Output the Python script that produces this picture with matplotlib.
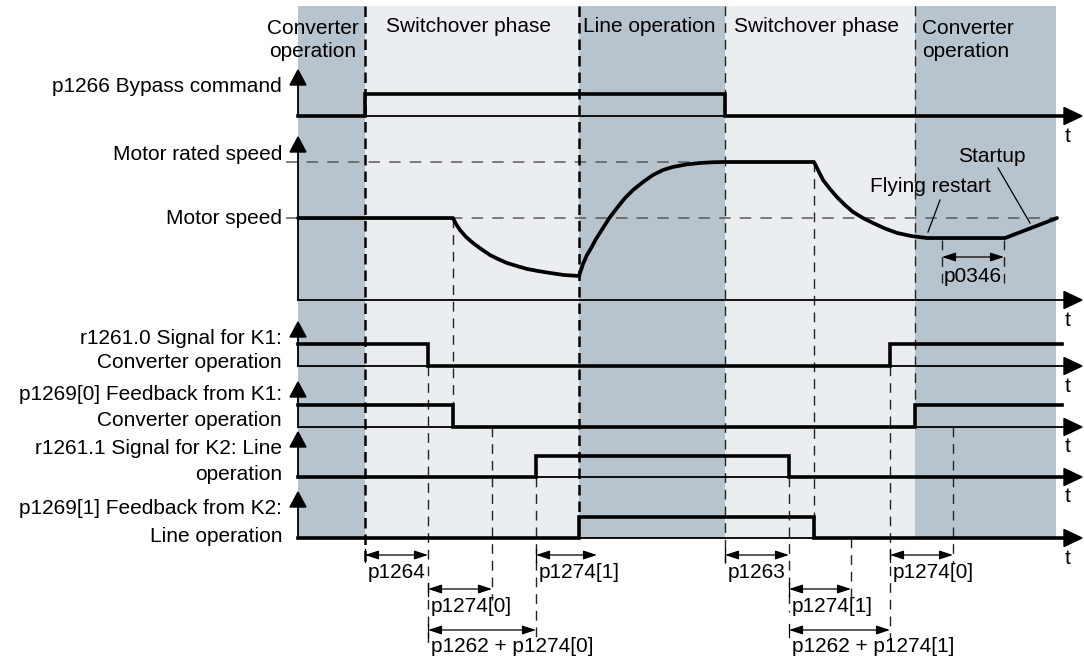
import matplotlib
matplotlib.use('Agg')
import matplotlib.pyplot as plt
from matplotlib.patches import Polygon

plt.rcParams['font.family'] = ['Liberation Sans', 'DejaVu Sans']
plt.rcParams['font.size'] = 15.0

# Time axis: phase boundaries and phase names
phase_edges = [298, 365, 579, 725, 915, 1056]
phase_names = ['Converter\noperation', 'Switchover phase', 'Line operation',
               'Switchover phase', 'Converter\noperation']
phase_dark = [True, False, True, False, True]

# Binary signals: switching instants and level from each instant on
bypass_t = [298, 365, 725, 1066]
bypass_v = [0, 1, 0, 0]
k1_cmd_t = [298, 428, 890, 1062]
k1_cmd_v = [1, 0, 1, 1]
k1_fb_t = [298, 453, 915, 1062]
k1_fb_v = [1, 0, 1, 1]
k2_cmd_t = [298, 536, 789, 1066]
k2_cmd_v = [0, 1, 0, 0]
k2_fb_t = [298, 579, 814, 1066]
k2_fb_v = [0, 1, 0, 0]

# Motor speed (1.0 = rated speed)
speed_t = [298, 453, 456, 460, 466, 473, 481, 490, 498, 507, 517, 527, 538, 550, 564, 579,
           583, 587, 590, 596, 603, 610, 617, 625, 633, 643, 653, 663, 673, 686, 700, 712, 723,
           814, 818, 823, 830, 837, 845, 853, 863, 873, 885, 897, 911, 927,
           1005, 1057]
speed_v = [0.594, 0.594, 0.551, 0.507, 0.457, 0.413, 0.370, 0.326, 0.297, 0.268, 0.246,
           0.225, 0.210, 0.196, 0.181, 0.174,
           0.261, 0.326, 0.362, 0.442, 0.522, 0.601, 0.667, 0.739, 0.797, 0.855, 0.906,
           0.942, 0.964, 0.982, 0.993, 0.998, 1.0,
           1.0, 0.942, 0.870, 0.804, 0.746, 0.688, 0.638, 0.594, 0.558, 0.518, 0.486,
           0.464, 0.449,
           0.449, 0.594]
rated_speed = 1.0
motor_speed = 0.594
restart_speed = 0.449

# Timing dimensions: (start, end, level, label)
dims = [
    (365, 428, 0, 'p1264'),
    (428, 492, 1, 'p1274[0]'),
    (428, 536, 2, 'p1262 + p1274[0]'),
    (536, 597, 0, 'p1274[1]'),
    (725, 789, 0, 'p1263'),
    (789, 851, 1, 'p1274[1]'),
    (789, 890, 2, 'p1262 + p1274[1]'),
    (890, 953, 0, 'p1274[0]'),
]
p0346_span = (942, 1004)

DARK = '#b8c4cd'
LIGHT = '#eaeef1'
X0 = 298
X_END = 1082

fig = plt.figure(figsize=(10.84, 6.59), dpi=100)
ax = fig.add_axes([0, 0, 1, 1])
ax.set_xlim(0, 1084)
ax.set_ylim(659, 0)
ax.axis('off')

# rows: (base, high, arrow tip)
rows = {
    'bypass': (116, 94, 70),
    'speed': (300, 162, 137),
    'k1_cmd': (366, 344, 322),
    'k1_fb': (427, 405, 382),
    'k2_cmd': (477, 456, 432),
    'k2_fb': (538, 517, 492),
}
BAND_TOP, BAND_BOTTOM = 6, 538


def level_y(row, v):
    base, high, _ = rows[row]
    return base - v * (base - high)


# background phases
for i, name in enumerate(phase_names):
    x0, x1 = phase_edges[i], phase_edges[i + 1]
    ax.fill_between([x0, x1], BAND_TOP, BAND_BOTTOM,
                    color=DARK if phase_dark[i] else LIGHT, lw=0, zorder=0)

for i, name in enumerate(phase_names):
    x0, x1 = phase_edges[i], phase_edges[i + 1]
    if i == 0:
        ax.text(313, 40, name, ha='center', va='center', linespacing=1.25)
    elif i == 4:
        ax.text(x0 + 7, 40, name, ha='left', va='center', linespacing=1.25)
    else:
        ax.text((x0 + x1) / 2 - 3, 27, name, ha='center', va='center')

# phase boundary dashes
thick_dash = dict(color='black', lw=1.8, linestyle=(0, (4.2, 2.4)), zorder=2)
thin_dash = dict(color='#222222', lw=1.0, linestyle=(0, (7.0, 5.0)), zorder=2)
ax.plot([365, 365], [BAND_TOP, 563], **thick_dash)
ax.plot([579, 579], [BAND_TOP, level_y('k2_fb', 1)], **thick_dash)
ax.plot([725, 725], [BAND_TOP, 563], **thin_dash)
ax.plot([915, 915], [BAND_TOP, level_y('k1_fb', 1)], **thin_dash)

# event markers
ax.plot([428, 428], [level_y('k1_cmd', 0), 645], **thin_dash)
ax.plot([453, 453], [level_y('speed', motor_speed), level_y('k1_fb', 0)], **thin_dash)
ax.plot([492, 492], [level_y('k1_fb', 0), 600], **thin_dash)
ax.plot([536, 536], [level_y('k2_cmd', 0), 640], **thin_dash)
ax.plot([789, 789], [level_y('k2_cmd', 0), 612], **thin_dash)
ax.plot([814, 814], [level_y('speed', rated_speed), level_y('k2_fb', 0)], **thin_dash)
ax.plot([851, 851], [level_y('k2_fb', 0), 600], **thin_dash)
ax.plot([890, 890], [level_y('k1_cmd', 0), 640], **thin_dash)
ax.plot([953, 953], [level_y('k1_fb', 0), 563], **thin_dash)
for x in p0346_span:
    ax.plot([x, x], [level_y('speed', restart_speed) + 2, 285], **thin_dash)

# speed reference lines
ref_dash = dict(color='#5a5a5a', lw=1.1, linestyle=(0, (7.5, 6.0)), zorder=1.5)
ax.plot([286, 723], [level_y('speed', rated_speed)] * 2, **ref_dash)
ax.plot([286, 1056], [level_y('speed', motor_speed)] * 2, **ref_dash)


def draw_axes(row):
    base, _, tip = rows[row]
    ax.plot([X0, X0], [base, tip + 10], color='black', lw=1.3, zorder=3)
    ax.add_patch(Polygon([[X0, tip], [X0 - 8, tip + 15], [X0 + 8, tip + 15]],
                         closed=True, color='black', zorder=4))
    ax.plot([X0, X_END - 12], [base, base], color='black', lw=1.3, zorder=3)
    ax.add_patch(Polygon([[X_END, base], [X_END - 18, base - 8.5], [X_END - 18, base + 8.5]],
                         closed=True, color='black', zorder=4))
    ax.text(1068, base + 20, 't', ha='center', va='center')


for r in rows:
    draw_axes(r)

sig_style = dict(color='black', lw=2.6, solid_joinstyle='miter', zorder=5)
for row, t, v in [('bypass', bypass_t, bypass_v), ('k1_cmd', k1_cmd_t, k1_cmd_v),
                  ('k1_fb', k1_fb_t, k1_fb_v), ('k2_cmd', k2_cmd_t, k2_cmd_v),
                  ('k2_fb', k2_fb_t, k2_fb_v)]:
    ax.step(t, [level_y(row, s) for s in v], where='post', **sig_style)

ax.plot(speed_t, [level_y('speed', s) for s in speed_v], color='black', lw=2.7,
        solid_joinstyle='round', solid_capstyle='round', zorder=5)

# annotations on the speed curve
ax.text(930, 187, 'Flying restart', ha='center', va='center')
ax.plot([940, 928], [200, 232], color='black', lw=0.9, zorder=6)
ax.text(992, 157, 'Startup', ha='center', va='center')
ax.plot([998, 1030], [168, 223], color='black', lw=0.9, zorder=6)

arrow_kw = dict(arrowstyle='<|-|>,head_length=0.55,head_width=0.18', color='black',
                lw=0.9, shrinkA=0, shrinkB=0)
ax.annotate('', xy=(p0346_span[1], 257), xytext=(p0346_span[0], 257), arrowprops=arrow_kw)
ax.text(sum(p0346_span) / 2, 276, 'p0346', ha='center', va='center')

dim_y = [555, 589, 630]
for x0, x1, lvl, label in dims:
    y = dim_y[lvl]
    ax.annotate('', xy=(x1, y), xytext=(x0, y), arrowprops=arrow_kw, zorder=6)
    ax.plot([x0, x0], [y - 6, y + 7], color='black', lw=0.9)
    ax.text(x0 + 3, y + 17, label, ha='left', va='center')

# row labels
labels = [
    ('p1266 Bypass command', 86),
    ('Motor rated speed', 155),
    ('Motor speed', 218),
    ('r1261.0 Signal for K1:', 338),
    ('Converter operation', 363),
    ('p1269[0] Feedback from K1:', 395),
    ('Converter operation', 421),
    ('r1261.1 Signal for K2: Line', 449),
    ('operation', 475),
    ('p1269[1] Feedback from K2:', 509),
    ('Line operation', 536),
]
for text, y in labels:
    ax.text(282, y, text, ha='right', va='center')

fig.savefig('out.png', dpi=100, facecolor='white')
